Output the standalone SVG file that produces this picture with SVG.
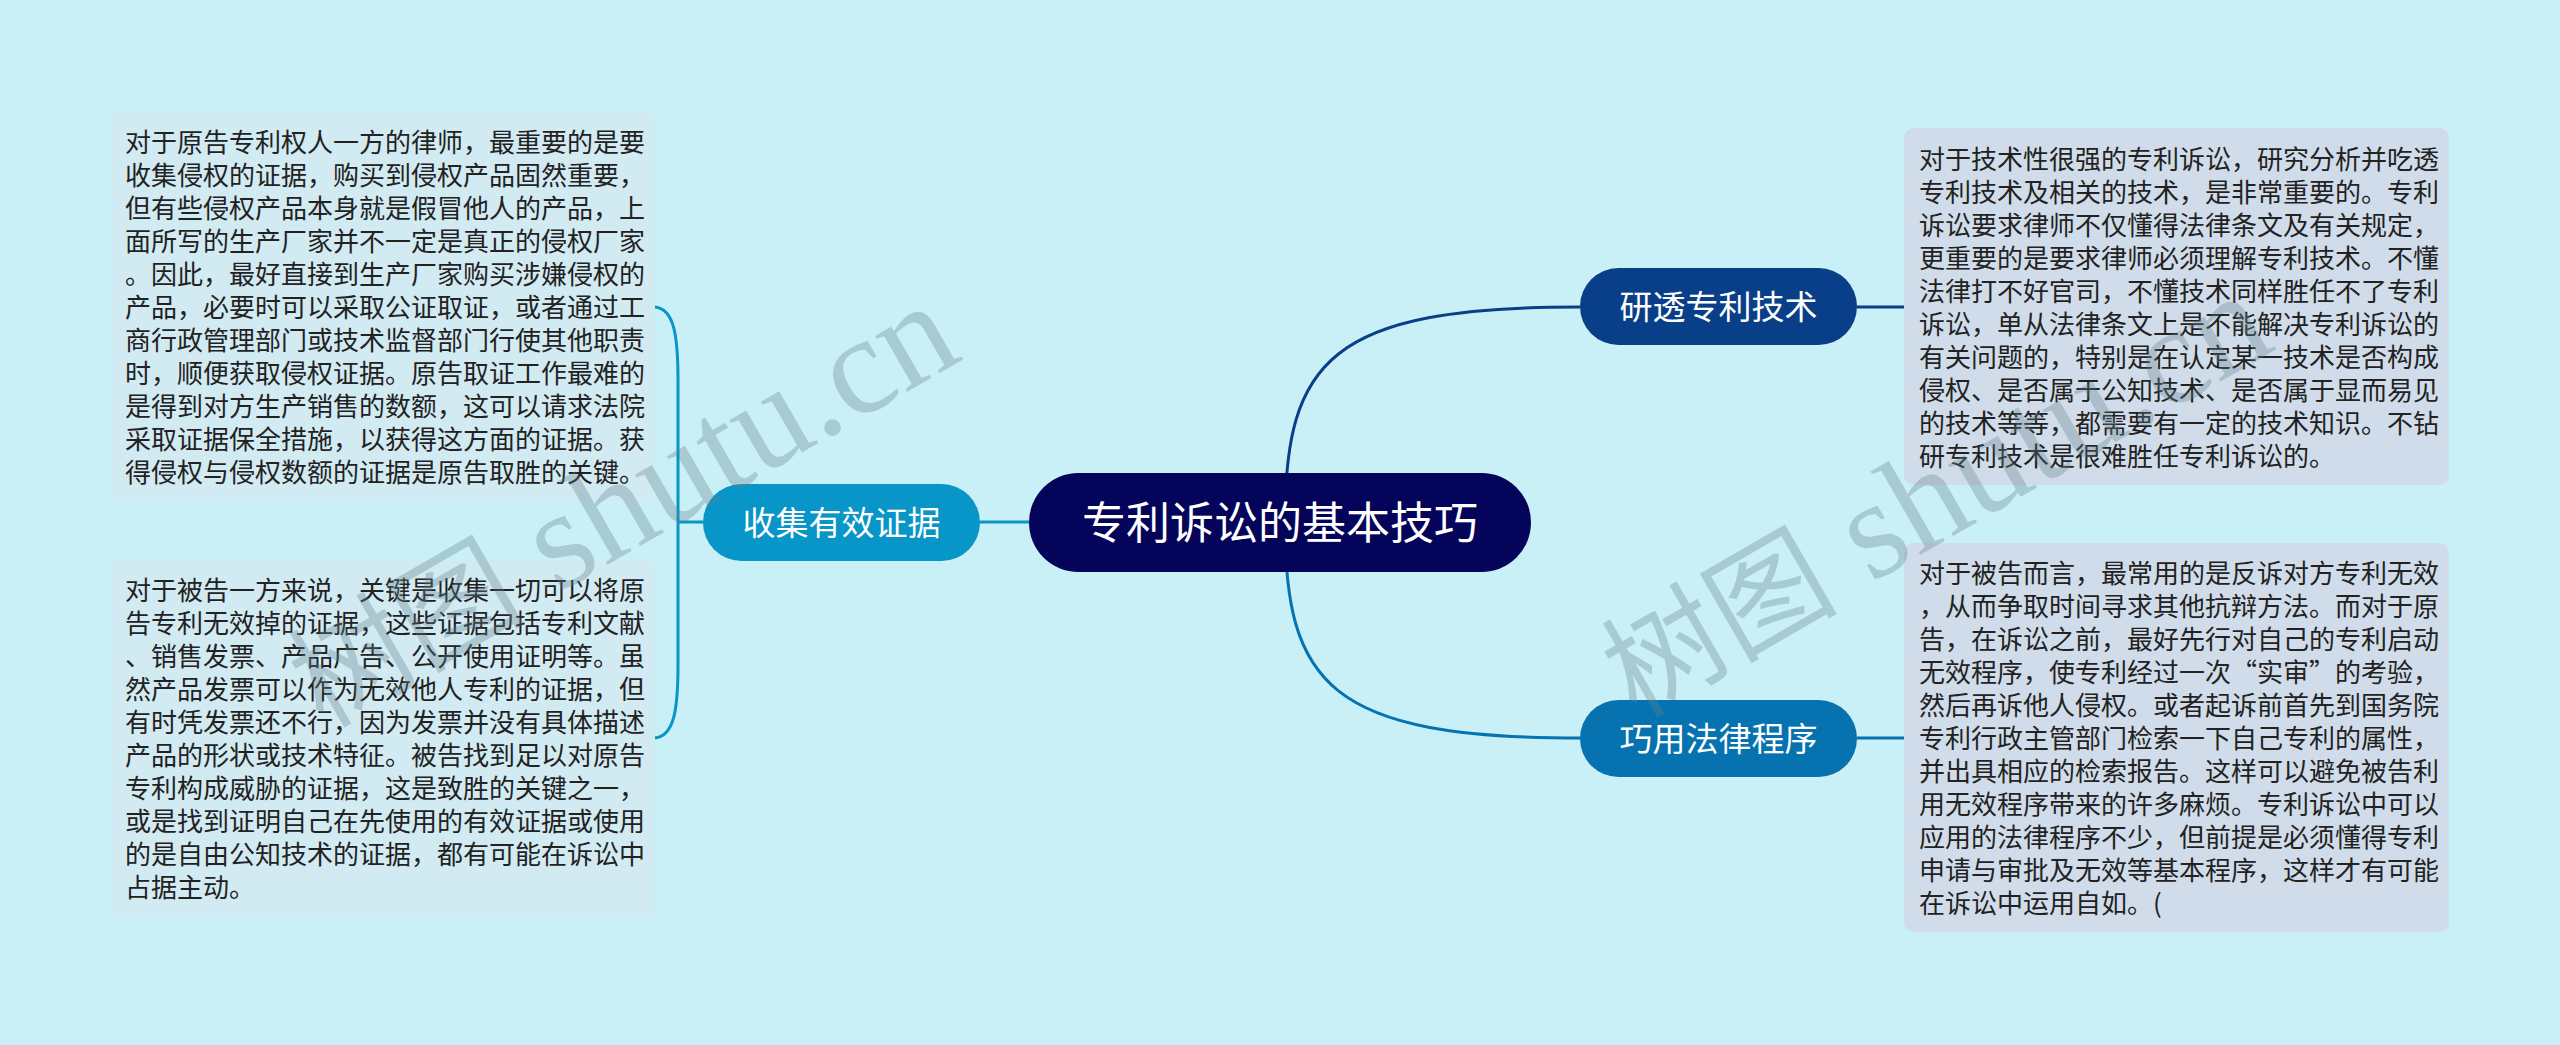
<svg xmlns="http://www.w3.org/2000/svg" width="2560" height="1045" viewBox="0 0 2560 1045">
<style>
.bg{fill:#c9eff7}
.box-l{fill:#d2eaf2}
.box-r{fill:#d0dce9}
.t{font-family:"Noto Sans CJK SC","Noto Sans",sans-serif;font-size:26px;fill:#222}
.nt{font-family:"Noto Sans CJK SC","Noto Sans",sans-serif;fill:#fff;text-anchor:middle}
.c{fill:none;stroke-width:3}
.wm{font-family:"Liberation Serif","Noto Sans CJK SC",serif;font-size:140px;fill:#64828c;opacity:0.33}
.wmc{font-size:118px}
</style>
<rect class="bg" x="0" y="0" width="2560" height="1045"/>

<g id="connectors">
<path class="c" stroke="#093f88" d="M1285 522 C1285 360 1330 307 1580 307"/>
<path class="c" stroke="#0673b0" d="M1285 522 C1285 685 1330 738 1580 738"/>
<path class="c" stroke="#0895c7" d="M1030 522 L980 522"/>
<path class="c" stroke="#093f88" d="M1857 307 L1905 307"/>
<path class="c" stroke="#0673b0" d="M1857 738 L1905 738"/>
<path class="c" stroke="#0895c7" d="M703 522 L678 522 M655 307 C674 309 678 335 678 380 L678 665 C678 710 674 736 655 738"/>
</g>

<g id="box-plaintiff">
<rect class="box-l" x="111" y="112" width="543" height="389" rx="10"/>
<text class="t">
<tspan x="125" y="152">对于原告专利权人一方的律师，最重要的是要</tspan>
<tspan x="125" y="185">收集侵权的证据，购买到侵权产品固然重要，</tspan>
<tspan x="125" y="218">但有些侵权产品本身就是假冒他人的产品，上</tspan>
<tspan x="125" y="251">面所写的生产厂家并不一定是真正的侵权厂家</tspan>
<tspan x="125" y="284">。因此，最好直接到生产厂家购买涉嫌侵权的</tspan>
<tspan x="125" y="317">产品，必要时可以采取公证取证，或者通过工</tspan>
<tspan x="125" y="350">商行政管理部门或技术监督部门行使其他职责</tspan>
<tspan x="125" y="383">时，顺便获取侵权证据。原告取证工作最难的</tspan>
<tspan x="125" y="416">是得到对方生产销售的数额，这可以请求法院</tspan>
<tspan x="125" y="449">采取证据保全措施，以获得这方面的证据。获</tspan>
<tspan x="125" y="482">得侵权与侵权数额的证据是原告取胜的关键。</tspan>
</text>
</g>

<g id="box-defendant">
<rect class="box-l" x="111" y="560" width="543" height="357" rx="10"/>
<text class="t">
<tspan x="125" y="600">对于被告一方来说，关键是收集一切可以将原</tspan>
<tspan x="125" y="633">告专利无效掉的证据，这些证据包括专利文献</tspan>
<tspan x="125" y="666">、销售发票、产品广告、公开使用证明等。虽</tspan>
<tspan x="125" y="699">然产品发票可以作为无效他人专利的证据，但</tspan>
<tspan x="125" y="732">有时凭发票还不行，因为发票并没有具体描述</tspan>
<tspan x="125" y="765">产品的形状或技术特征。被告找到足以对原告</tspan>
<tspan x="125" y="798">专利构成威胁的证据，这是致胜的关键之一，</tspan>
<tspan x="125" y="831">或是找到证明自己在先使用的有效证据或使用</tspan>
<tspan x="125" y="864">的是自由公知技术的证据，都有可能在诉讼中</tspan>
<tspan x="125" y="897">占据主动。</tspan>
</text>
</g>

<g id="box-tech">
<rect class="box-r" x="1904" y="128" width="545" height="357" rx="10"/>
<text class="t">
<tspan x="1919" y="169">对于技术性很强的专利诉讼，研究分析并吃透</tspan>
<tspan x="1919" y="202">专利技术及相关的技术，是非常重要的。专利</tspan>
<tspan x="1919" y="235">诉讼要求律师不仅懂得法律条文及有关规定，</tspan>
<tspan x="1919" y="268">更重要的是要求律师必须理解专利技术。不懂</tspan>
<tspan x="1919" y="301">法律打不好官司，不懂技术同样胜任不了专利</tspan>
<tspan x="1919" y="334">诉讼，单从法律条文上是不能解决专利诉讼的</tspan>
<tspan x="1919" y="367">有关问题的，特别是在认定某一技术是否构成</tspan>
<tspan x="1919" y="400">侵权、是否属于公知技术、是否属于显而易见</tspan>
<tspan x="1919" y="433">的技术等等，都需要有一定的技术知识。不钻</tspan>
<tspan x="1919" y="466">研专利技术是很难胜任专利诉讼的。</tspan>
</text>
</g>

<g id="box-procedure">
<rect class="box-r" x="1904" y="543" width="545" height="389" rx="10"/>
<text class="t">
<tspan x="1919" y="583">对于被告而言，最常用的是反诉对方专利无效</tspan>
<tspan x="1919" y="616">，从而争取时间寻求其他抗辩方法。而对于原</tspan>
<tspan x="1919" y="649">告，在诉讼之前，最好先行对自己的专利启动</tspan>
<tspan x="1919" y="682">无效程序，使专利经过一次“实审”的考验，</tspan>
<tspan x="1919" y="715">然后再诉他人侵权。或者起诉前首先到国务院</tspan>
<tspan x="1919" y="748">专利行政主管部门检索一下自己专利的属性，</tspan>
<tspan x="1919" y="781">并出具相应的检索报告。这样可以避免被告利</tspan>
<tspan x="1919" y="814">用无效程序带来的许多麻烦。专利诉讼中可以</tspan>
<tspan x="1919" y="847">应用的法律程序不少，但前提是必须懂得专利</tspan>
<tspan x="1919" y="880">申请与审批及无效等基本程序，这样才有可能</tspan>
<tspan x="1919" y="913">在诉讼中运用自如。(</tspan>
</text>
</g>

<g id="node-root">
<rect x="1029" y="473" width="502" height="99" rx="49.5" fill="#03045a"/>
<text class="nt" x="1280" y="539" font-size="44">专利诉讼的基本技巧</text>
</g>

<g id="node-evidence">
<rect x="703" y="484" width="277" height="77" rx="38.5" fill="#0895c7"/>
<text class="nt" x="841.5" y="535" font-size="33">收集有效证据</text>
</g>

<g id="node-tech">
<rect x="1580" y="268" width="277" height="77" rx="38.5" fill="#093f88"/>
<text class="nt" x="1718.5" y="319" font-size="33">研透专利技术</text>
</g>

<g id="node-procedure">
<rect x="1580" y="700" width="277" height="77" rx="38.5" fill="#0673b0"/>
<text class="nt" x="1718.5" y="751" font-size="33">巧用法律程序</text>
</g>

<g id="watermark">
<text class="wm" x="323" y="729" transform="rotate(-30 323 729)"><tspan class="wmc">树图</tspan> shutu.cn</text>
<text class="wm" x="1636" y="719" transform="rotate(-30 1636 719)"><tspan class="wmc">树图</tspan> shutu.cn</text>
</g>
</svg>
